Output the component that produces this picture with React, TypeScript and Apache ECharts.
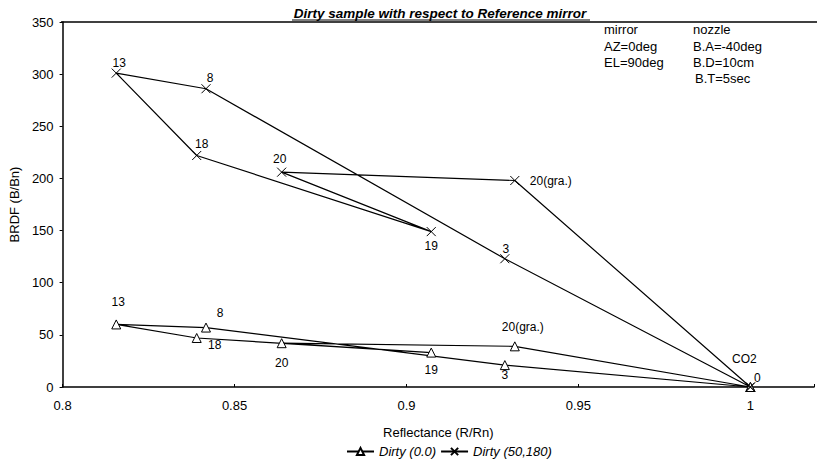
import React, { useEffect, useRef } from "react";
import * as echarts from "echarts";

// Sample order along the measured loop
const sampleNames = ["CO2", "3", "8", "13", "18", "19", "20", "20(gra.)", "CO2"];
const reflectance = [1.0, 0.9286, 0.8417, 0.8156, 0.839, 0.9072, 0.8637, 0.9315, 1.0];
const brdfDirty00 = [0, 21, 57, 60, 47, 33, 42, 39, 0];
const brdfDirty50 = [0, 123, 286, 301, 222, 149, 206, 198, 0];
const labelsDirty00 = ["CO2", "3", "8", "13", "18", "19", "20", "20(gra.)", ""];
const labelsDirty50 = ["0", "3", "8", "13", "18", "19", "20", "20(gra.)", ""];
const yTicks = [0, 50, 100, 150, 200, 250, 300, 350];
const xTicks = [0.8, 0.85, 0.9, 0.95, 1];
const infoLines = [
  ["mirror", "nozzle"],
  ["AZ=0deg", "B.A=-40deg"],
  ["EL=90deg", "B.D=10cm"],
  ["", "B.T=5sec"],
];

// label placement (layout only)
const offsets00: [number, number][] = [[-6, -28], [0, 10], [14, -15], [2, -22], [18, 7], [0, 17], [0, 20], [8, -19], [0, 0]];
const offsets50: [number, number][] = [[7, -9], [1, -10], [4, -11], [3, -10], [5, -11], [0, 14], [-2, -13], [36, 0], [0, 0]];

const FONT = "Liberation Sans, Arial, sans-serif";

function buildData(ys: number[], labels: string[], offs: [number, number][]) {
  return reflectance.map((x, i) => ({
    name: sampleNames[i],
    value: [x, ys[i]],
    label: {
      show: labels[i] !== "",
      formatter: labels[i],
      position: "inside",
      offset: offs[i],
    },
  }));
}

export default function App() {
  const ref = useRef<HTMLDivElement>(null);
  useEffect(() => {
    if (!ref.current) return;
    const chart = echarts.init(ref.current, undefined, { renderer: "svg" });
    const labelStyle = { color: "#000", fontSize: 12, fontFamily: FONT };
    const infoY = [29, 46, 62, 78];
    const infoX = [[604, 693], [604, 693], [604, 693], [604, 695]];
    const infoGraphics: any[] = [];
    infoLines.forEach((row, r) =>
      row.forEach((t, c) => {
        if (!t) return;
        infoGraphics.push({
          type: "text",
          x: infoX[r][c],
          y: infoY[r],
          style: { text: t, fontSize: 13, fill: "#000", fontFamily: FONT, verticalAlign: "middle" },
        });
      })
    );
    chart.setOption({
      animation: false,
      backgroundColor: "#fff",
      textStyle: { fontFamily: FONT, color: "#000" },
      grid: { left: 61, right: 0, top: 22, bottom: 75 },
      xAxis: {
        type: "value",
        min: 0.8,
        max: 1.0185,
        interval: 0.05,
        name: "Reflectance (R/Rn)",
        nameLocation: "middle",
        nameGap: 39,
        nameTextStyle: { fontSize: 13, color: "#000", fontFamily: FONT },
        axisLine: { lineStyle: { color: "#000", width: 1.5 } },
        axisTick: { inside: true, length: 3, lineStyle: { color: "#000" } },
        splitLine: { show: false },
        axisLabel: {
          fontSize: 13,
          color: "#000",
          margin: 12,
          formatter: (v: number) => (xTicks.some((t) => Math.abs(t - v) < 1e-6) ? String(+v.toFixed(2)) : ""),
        },
      },
      yAxis: {
        type: "value",
        min: 0,
        max: 350,
        interval: 50,
        name: "BRDF (B/Bn)",
        nameLocation: "middle",
        nameGap: 40,
        nameTextStyle: { fontSize: 13, color: "#000", fontFamily: FONT },
        axisLine: { show: true, lineStyle: { color: "#000", width: 1.5 } },
        axisTick: { show: true, length: 3, lineStyle: { color: "#000" } },
        splitLine: { show: false },
        axisLabel: {
          fontSize: 13,
          color: "#000",
          margin: 9,
          formatter: (v: number) => (yTicks.includes(v) ? String(v) : ""),
        },
      },
      legend: {
        top: 445,
        left: 346,
        padding: 0,
        itemWidth: 27,
        itemHeight: 9,
        itemGap: 4,
        textStyle: { fontSize: 13, fontStyle: "italic", color: "#000", fontFamily: FONT },
        data: ["Dirty (0.0)", "Dirty (50,180)"],
      },
      series: [
        {
          name: "Dirty (0.0)",
          type: "line",
          data: buildData(brdfDirty00, labelsDirty00, offsets00),
          symbol: "triangle",
          symbolSize: 9,
          showAllSymbol: true,
          itemStyle: { color: "#fff", borderColor: "#000", borderWidth: 1 },
          lineStyle: { color: "#000", width: 1.2 },
          label: labelStyle,
          z: 3,
        },
        {
          name: "Dirty (50,180)",
          type: "line",
          data: buildData(brdfDirty50, labelsDirty50, offsets50),
          symbol: "path://M0 0L10 10M0 10L10 0",
          symbolSize: 9,
          showAllSymbol: true,
          itemStyle: { color: "none", borderColor: "#000", borderWidth: 1 },
          lineStyle: { color: "#000", width: 1.2 },
          label: labelStyle,
          z: 3,
        },
      ],
      graphic: [
        // plot top frame
        { type: "line", shape: { x1: 61, y1: 22, x2: 817, y2: 22 }, style: { stroke: "#000", lineWidth: 1.3 } },
        {
          type: "text",
          x: 440,
          y: 13,
          style: {
            text: "Dirty sample with respect to Reference mirror",
            fontSize: 13.5,
            fontWeight: "bold",
            fontStyle: "italic",
            fill: "#000",
            fontFamily: FONT,
            align: "center",
            verticalAlign: "middle",
          },
        },
        { type: "line", shape: { x1: 292, y1: 20, x2: 590, y2: 20 }, style: { stroke: "#000", lineWidth: 1 } },
        ...infoGraphics,
      ],
    });
    return () => chart.dispose();
  }, []);
  return <div ref={ref} style={{ width: 817, height: 462, position: "absolute", left: 0, top: 0 }} />;
}
